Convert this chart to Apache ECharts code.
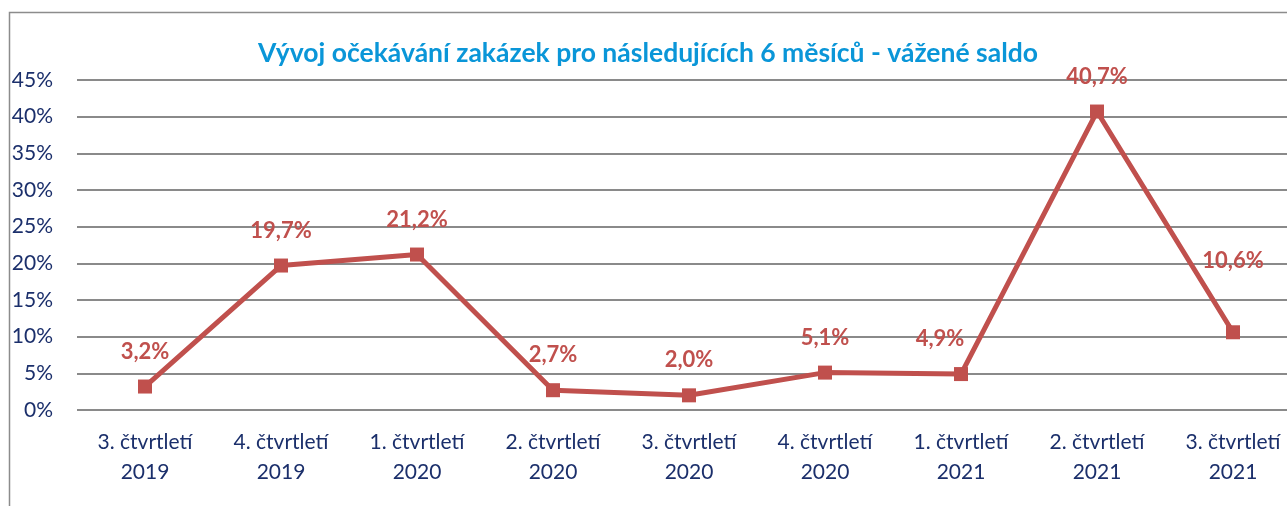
<!DOCTYPE html>
<html>
<head>
<meta charset="utf-8">
<script src="https://cdn.jsdelivr.net/npm/echarts@6/dist/echarts.min.js"></script>
<style>
  html,body{margin:0;padding:0;background:#fff;overflow:hidden;}
  #chart{width:1301px;height:506px;}
</style>
</head>
<body>
<div id="chart"></div>
<script>
  // data
  var titleText = 'Vývoj očekávání zakázek pro následujících 6 měsíců - vážené saldo';
  var quarters = ['3. čtvrtletí', '4. čtvrtletí', '1. čtvrtletí', '2. čtvrtletí', '3. čtvrtletí', '4. čtvrtletí', '1. čtvrtletí', '2. čtvrtletí', '3. čtvrtletí'];
  var years = ['2019', '2019', '2020', '2020', '2020', '2020', '2021', '2021', '2021'];
  var saldo = [3.2, 19.7, 21.2, 2.7, 2.0, 5.1, 4.9, 40.7, 10.6];

  var categories = quarters.map(function(q, i){ return q + '\n' + years[i]; });

  // a couple of labels were moved by hand in the original
  var labelShift = {6: [-21, 0], 8: [0, -36]};
  var points = saldo.map(function(v, i){
    var item = {value: v};
    if (labelShift[i]) item.label = {offset: labelShift[i]};
    return item;
  });

  var font = 'Lato, "Open Sans", sans-serif';
  var myChart = echarts.init(document.getElementById('chart'));
  var option = {
    animation: false,
    title: {
      text: titleText,
      left: 643,
      textAlign: 'center',
      top: 35,
      textStyle: {color: '#0a96d8', fontSize: 26.5, fontWeight: 'bold', fontFamily: font}
    },
    graphic: [{
      type: 'rect',
      shape: {x: 9.5, y: 12.5, width: 1400, height: 600},
      style: {fill: 'none', stroke: '#8c8c8c', lineWidth: 1.5},
      silent: true
    }],
    grid: {left: 77, right: 0, top: 80, bottom: 96},
    xAxis: {
      type: 'category',
      data: categories,
      boundaryGap: true,
      axisLine: {show: false},
      axisTick: {show: false},
      axisLabel: {color: '#1b2f6b', fontSize: 21, fontFamily: font, lineHeight: 30, margin: 17, interval: 0}
    },
    yAxis: {
      type: 'value',
      min: 0,
      max: 45,
      interval: 5,
      axisLine: {show: false},
      axisTick: {show: false},
      axisLabel: {color: '#1b2f6b', fontSize: 21, fontFamily: font, margin: 24, formatter: '{value}%'},
      splitLine: {lineStyle: {color: '#8a8a8a', width: 2}}
    },
    series: [{
      type: 'line',
      data: points,
      symbol: 'rect',
      symbolSize: 14,
      lineStyle: {color: '#c0504d', width: 5},
      itemStyle: {color: '#c0504d'},
      label: {
        show: true,
        position: 'top',
        distance: 17,
        color: '#c0504d',
        fontSize: 22,
        fontWeight: 'bold',
        fontFamily: font,
        formatter: function(p){ return p.value.toFixed(1).replace('.', ',') + '%'; }
      }
    }]
  };
  myChart.setOption(option);
</script>
</body>
</html>
